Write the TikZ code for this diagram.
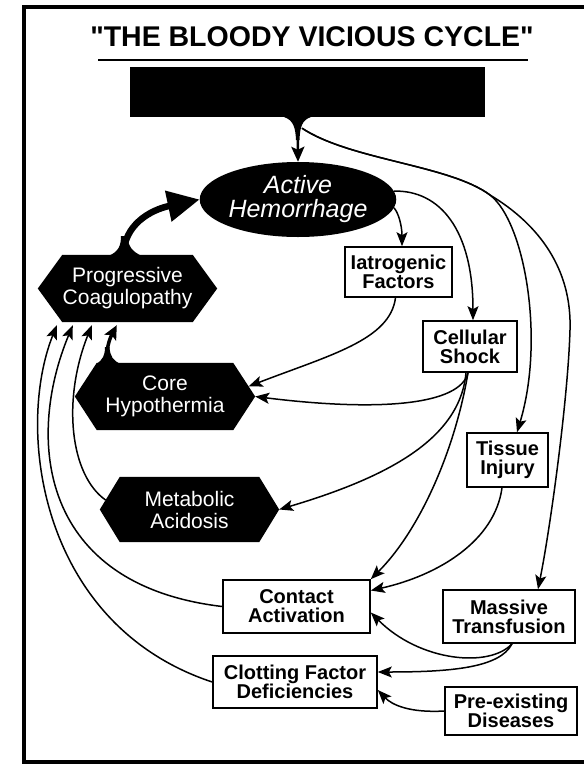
\documentclass[tikz,border=0pt]{standalone}
\usepackage{fontspec}
\setmainfont{Liberation Sans}
\newfontfamily\titlefont{Liberation Sans}[Ligatures=TeXOff]
\usetikzlibrary{arrows.meta,shapes.geometric,calc}
\pgfdeclarelayer{bg}
\pgfsetlayers{bg,main}
\begin{document}
\begin{tikzpicture}[x=1pt,y=-1pt,
  conn/.style={line width=1.5pt, -{Stealth[length=14pt,width=11pt,inset=3pt]}},
  stepbox/.style={draw, line width=1.6pt, fill=white, inner sep=0pt, align=center,
    font=\bfseries\fontsize{20pt}{19pt}\selectfont},
  hexnode/.style={inner sep=0pt, align=center, text=white, minimum height=67pt,
    font=\fontsize{21pt}{22pt}\selectfont},
]
\useasboundingbox (0,0) rectangle (584,764);

% outer frame (open on the right)
\coordinate (fTL) at (24,7);
\coordinate (fBL) at (24,762);
\coordinate (fTR) at (586,7);
\coordinate (fBR) at (586,762);
\draw[line width=3.5pt] (fTR) -- (fTL) -- (fBL) -- (fBR);

% title
\node[inner sep=0pt, font=\titlefont\bfseries\fontsize{28.5pt}{30pt}\selectfont] (title) at (312,36.5) {"THE BLOODY VICIOUS CYCLE"};
\coordinate (ulA) at (98,60);
\coordinate (ulB) at (528,60);
\draw[line width=2.5pt] (ulA) -- (ulB);

% top black banner
\node[fill=black, minimum width=355pt, minimum height=50pt, inner sep=0pt] (top) at (307.5,92) {};

% active hemorrhage
\node[ellipse, fill=black, text=white, minimum width=176pt, minimum height=75pt, inner sep=0pt,
  align=center, font=\itshape\fontsize{25pt}{24pt}\selectfont] (ah) at (298,199.5) {Active\\Hemorrhage};

% hexagonal states
\node[hexnode, minimum width=130pt] (pc) at (127.5,288.5) {Progressive\\Coagulopathy};
\node[hexnode, minimum width=136pt] (ch) at (165,396.5) {Core\\Hypothermia};
\node[hexnode, minimum width=139pt, minimum height=65pt] (ma) at (189.5,509.5) {Metabolic\\Acidosis};
\coordinate (pcL) at ([xshift=-24.5pt]pc.west);
\coordinate (pcR) at ([xshift=24.5pt]pc.east);
\coordinate (chL) at ([xshift=-22pt]ch.west);
\coordinate (chR) at ([xshift=22pt]ch.east);
\coordinate (maL) at ([xshift=-20pt]ma.west);
\coordinate (maR) at ([xshift=20pt]ma.east);
\begin{pgfonlayer}{bg}
  \fill (pc.north west) -- (pc.north east) -- (pcR) -- (pc.south east) -- (pc.south west) -- (pcL) -- cycle;
  \fill (ch.north west) -- (ch.north east) -- (chR) -- (ch.south east) -- (ch.south west) -- (chL) -- cycle;
  \fill (ma.north west) -- (ma.north east) -- (maR) -- (ma.south east) -- (ma.south west) -- (maL) -- cycle;
\end{pgfonlayer}

% white boxes
\node[stepbox, minimum width=107pt, minimum height=50pt] (ia) at (398.5,272) {Iatrogenic\\Factors};
\node[stepbox, minimum width=94pt, minimum height=51pt] (cs) at (470,346.5) {Cellular\\Shock};
\node[stepbox, minimum width=81pt, minimum height=54pt] (ti) at (507.5,460) {Tissue\\Injury};
\node[stepbox, minimum width=132pt, minimum height=53pt] (mt) at (509,616.5) {Massive\\Transfusion};
\node[stepbox, minimum width=132pt, minimum height=48pt] (pe) at (511,711) {Pre-existing\\Diseases};
\node[stepbox, minimum width=147pt, minimum height=53pt] (ca) at (296.5,606.5) {Contact\\Activation};
\node[stepbox, minimum width=164pt, minimum height=52pt] (cfd) at (295,682) {Clotting Factor\\Deficiencies};

% banner down into the hemorrhage
\coordinate (drop) at ([xshift=-10pt]top.south);
\fill (284,117) .. controls (293,120) and (295.5,127) .. (296,140) -- (299.5,140)
      .. controls (300,127) and (302,120) .. (311,117) -- cycle;
\draw[line width=2.5pt, -{Stealth[length=15pt,width=13pt,inset=3pt]}] (drop) -- (ah.north);

% banner to tissue injury and massive transfusion
\coordinate (fork) at ([shift={(4.5pt,-11pt)}]drop);
\coordinate (split) at (490,195);
\draw[conn] (fork) .. controls (350,160) and (450,165) .. (split)
  .. controls (525,222) and (545,340) .. ([xshift=9.5pt]ti.north);
\draw[conn] (fork) .. controls (350,160) and (450,165) .. (split)
  .. controls (540,225) and (572,270) .. (570,330)
  .. controls (568,400) and (550,530) .. ([xshift=29pt]mt.north);

% hemorrhage outputs
\draw[conn] (ah.-5) .. controls (398,212) and (402,225) .. ([xshift=3.5pt]ia.north);
\draw[conn] (ah.5) .. controls (440,190) and (473,230) .. ([xshift=3pt]cs.north);

% into core hypothermia and metabolic acidosis
\coordinate (chEdge) at ($(ch.north east)!0.7!(chR)$);
\draw[conn] ([xshift=-3pt]ia.south) .. controls (390,340) and (330,355) .. (chEdge);
\draw[conn] ([xshift=-2pt]cs.south) .. controls (460,405) and (380,412) .. (chR);
\draw[conn] ([xshift=-4pt]cs.south) .. controls (460,440) and (385,478) .. (maR);

% into contact activation
\draw[conn] ([xshift=-2pt]cs.south) .. controls (455,450) and (420,530) .. (ca.north east);
\draw[conn] ([xshift=-5.5pt]ti.south) .. controls (495,540) and (440,575) .. ([yshift=16pt]ca.east);
\draw[conn] ([xshift=3pt]mt.south) .. controls (490,668) and (420,662) .. ([yshift=-6pt]ca.east);

% into clotting factor deficiencies
\draw[conn] ([xshift=3pt]mt.south) .. controls (500,668) and (450,672) .. ([yshift=10pt]cfd.east);
\draw[conn] (pe.west) .. controls (410,713) and (392,705) .. ([yshift=-8pt]cfd.east);

% feedback into progressive coagulopathy
\coordinate (tipA) at ([shift={(-5.5pt,-3pt)}]pc.south west);
\coordinate (tipB) at ([shift={(10.5pt,-3pt)}]pc.south west);
\coordinate (tipC) at ([shift={(29.5pt,-3pt)}]pc.south west);
\coordinate (tipD) at ([shift={(54.5pt,-3pt)}]pc.south west);
\coordinate (maEdge) at ($(maL)!0.29!(ma.north west)$);
\draw[conn] (cfd.west) .. controls (40,625) and (15,430) .. (tipA);
\draw[conn] (ca.west) .. controls (40,585) and (25,440) .. (tipB);
\draw[conn] (maEdge) .. controls (70,475) and (62,400) .. (tipC);
\fill (96,364) .. controls (103,360) and (105,355) .. (105,347) -- (109.5,347)
      .. controls (110,356) and (113,361) .. (121,364) -- cycle;
\draw[line width=3.5pt, -{Stealth[length=14pt,width=13pt,inset=3pt]}] (107,362) .. controls (106,350) and (109,340) .. (tipD);

% coagulopathy feeding the hemorrhage
\fill (108,256) .. controls (119,252) and (121,245) .. (121,236) -- (127.5,236)
      .. controls (128,247) and (133,252) .. (142,256) -- cycle;
\draw[line width=6.5pt, -{Triangle[length=32pt,width=30pt]}] ([xshift=-4pt]pc.north) .. controls (124,225) and (150,210) .. (ah.west);
\end{tikzpicture}
\end{document}
